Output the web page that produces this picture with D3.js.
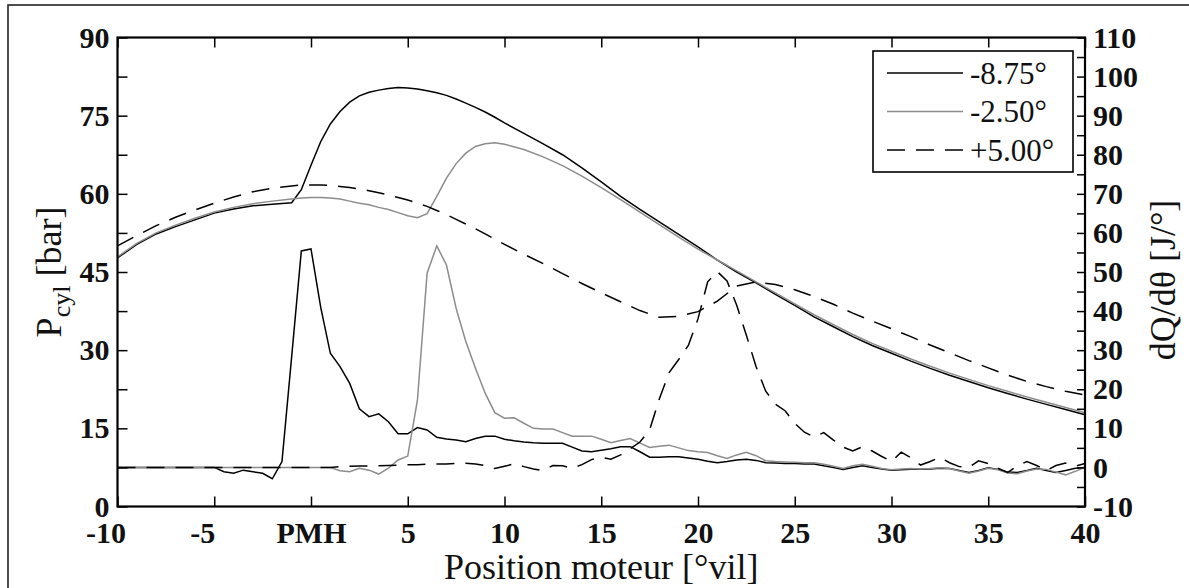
<!DOCTYPE html>
<html>
<head>
<meta charset="utf-8">
<script src="https://cdn.jsdelivr.net/npm/d3@7"></script>
<style>
  body { margin: 0; background: #fff; }
  svg text { font-family: "Liberation Serif", "Times New Roman", serif; fill: #111; }
</style>
</head>
<body>
<div id="chart"></div>
<script>
// crank angle grid for the pressure curves (finer around combustion start)
var pAngle = [-10, -9, -8, -7, -6, -5, -4, -3, -2, -1,
  -0.5, 0, 0.5, 1, 1.5, 2, 2.5, 3, 3.5, 4, 4.5, 5, 5.5, 6, 6.5, 7, 7.5, 8, 8.5, 9, 9.5, 10,
  11, 12, 13, 14, 15, 16, 17, 18, 19, 20, 21, 22, 23, 24, 25, 26, 27, 28, 29, 30,
  31, 32, 33, 34, 35, 36, 37, 38, 39, 40];

// cylinder pressure [bar]
var pA = [47.7, 50.3, 52.3, 53.7, 55.0, 56.3, 57.1, 57.7, 58.0, 58.3,
  60.8, 65.5, 70.0, 73.4, 75.8, 77.6, 78.8, 79.5, 79.9, 80.2, 80.4, 80.3, 80.1, 79.8, 79.4, 78.9, 78.2, 77.4, 76.6, 75.7, 74.7, 73.6,
  71.6, 69.6, 67.5, 65.0, 62.3, 59.5, 57.0, 54.6, 52.2, 49.8, 47.3, 45.0, 42.9, 40.7, 38.6, 36.4, 34.5, 32.6, 30.9, 29.4,
  27.9, 26.5, 25.2, 24.0, 22.8, 21.7, 20.6, 19.6, 18.6, 17.6];
var pB = [47.9, 50.5, 52.5, 54.0, 55.3, 56.5, 57.4, 58.1, 58.6, 59.0,
  59.2, 59.3, 59.3, 59.2, 59.0, 58.6, 58.2, 57.9, 57.4, 57.0, 56.4, 55.8, 55.4, 56.2, 59.5, 63.0, 65.8, 67.8, 69.1, 69.6, 69.8, 69.5,
  68.5, 67.1, 65.4, 63.4, 61.2, 58.9, 56.5, 54.1, 51.7, 49.4, 47.3, 45.2, 43.1, 41.0, 38.9, 36.8, 34.9, 33.0, 31.3, 29.8,
  28.3, 26.9, 25.6, 24.4, 23.2, 22.1, 21.0, 20.0, 19.0, 18.0];
var pC = [50.0, 52.0, 53.9, 55.5, 56.9, 58.2, 59.4, 60.4, 61.1, 61.5,
  61.7, 61.7, 61.7, 61.6, 61.4, 61.2, 60.9, 60.6, 60.2, 59.8, 59.3, 58.8, 58.2, 57.6, 56.8, 56.0, 55.1, 54.2, 53.3, 52.3, 51.3, 50.3,
  48.4, 46.6, 44.7, 42.8, 41.0, 39.3, 37.6, 36.3, 36.5, 37.4, 39.4, 42.3, 43.1, 42.6, 41.6, 40.3, 38.8, 37.1, 35.6, 34.1,
  32.6, 31.0, 29.5, 28.0, 26.6, 25.2, 24.0, 23.0, 22.1, 21.4];

// crank angle grid for the heat release rate, every 0.5 deg
var qAngle = [-10, -9.5, -9, -8.5, -8, -7.5, -7, -6.5, -6, -5.5,
  -5, -4.5, -4, -3.5, -3, -2.5, -2, -1.5, -1, -0.5,
  0, 0.5, 1, 1.5, 2, 2.5, 3, 3.5, 4, 4.5,
  5, 5.5, 6, 6.5, 7, 7.5, 8, 8.5, 9, 9.5,
  10, 10.5, 11, 11.5, 12, 12.5, 13, 13.5, 14, 14.5,
  15, 15.5, 16, 16.5, 17, 17.5, 18, 18.5, 19, 19.5,
  20, 20.5, 21, 21.5, 22, 22.5, 23, 23.5, 24, 24.5,
  25, 25.5, 26, 26.5, 27, 27.5, 28, 28.5, 29, 29.5,
  30, 30.5, 31, 31.5, 32, 32.5, 33, 33.5, 34, 34.5,
  35, 35.5, 36, 36.5, 37, 37.5, 38, 38.5, 39, 39.5,
  40];

// heat release rate dQ/dtheta [J/deg]
var qA = [0, 0, 0, 0, 0, 0, 0, 0, 0, 0,
  0, -1.1, -1.5, -0.7, -1.1, -1.5, -2.9, 1.5, 28.3, 55.4,
  55.9, 41.0, 29.2, 25.8, 21.5, 15.0, 13.0, 13.7, 11.7, 8.6,
  8.6, 10.2, 9.6, 7.7, 7.3, 7.0, 6.6, 7.4, 8.0, 8.0,
  7.2, 6.8, 6.5, 6.3, 6.2, 6.2, 6.2, 5.2, 4.2, 4.0,
  4.4, 4.8, 5.3, 5.3, 4.0, 2.6, 2.6, 2.7, 2.7, 2.4,
  2.1, 1.6, 1.2, 1.5, 1.9, 2.1, 1.8, 1.2, 1.1, 1.0,
  1.0, 0.9, 0.9, 0.4, 0.0, -0.5, 0.0, 0.4, 0.0, -0.4,
  -0.7, -0.6, -0.5, -0.5, -0.4, -0.2, -0.3, -0.8, -1.3, -0.8,
  -0.1, -0.5, -1.2, -1.3, -0.8, -0.2, -0.8, -1.3, -0.8, -0.2,
  0.0];
var qB = [0, 0, 0, 0, 0, 0, 0, 0, 0, 0,
  0, 0, 0, 0, 0, 0, 0, 0, 0, 0,
  0, 0, 0, -0.85, -1.1, -0.2, -0.7, -1.7, -0.2, 1.9,
  2.9, 17.2, 49.7, 56.7, 51.8, 40.7, 32.2, 25.4, 19.0, 14.0,
  12.6, 12.7, 11.3, 10.0, 9.8, 9.8, 8.9, 8.0, 8.0, 8.0,
  7.2, 6.3, 6.9, 7.4, 6.2, 5.1, 5.4, 5.7, 5.0, 4.3,
  4.0, 3.8, 3.0, 2.3, 3.2, 3.9, 3.0, 1.7, 1.5, 1.4,
  1.3, 1.2, 1.2, 0.8, 0.3, -0.3, 0.4, 0.8, 0.3, -0.3,
  -0.6, -0.4, -0.3, -0.4, -0.3, -0.1, -0.3, -0.9, -1.5, -0.9,
  -0.2, -0.6, -1.4, -1.6, -0.9, -0.4, -0.5, -1.2, -1.9, -1.0,
  0.0];
var qC = [0, 0, 0, 0, 0, 0, 0, 0, 0, 0,
  0, 0, 0, 0, 0, 0, 0, 0, 0, 0,
  0, 0, 0, 0.2, 0.3, 0.35, 0.4, 0.45, 0.5, 0.6,
  0.7, 0.7, 0.8, 0.85, 0.9, 1.0, 1.05, 0.9, 0.5, -0.3,
  0.3, 0.9, 0.2, -0.4, -0.8, 0.5, 0.4, -0.2, 0.7, 2.0,
  2.6, 2.1, 3.2, 4.8, 6.5, 9.6, 17.5, 24.2, 27.6, 31.2,
  38.0, 47.5, 50.1, 47.7, 41.5, 33.8, 25.8, 19.5, 16.2, 14.5,
  11.3, 9.0, 7.8, 8.9, 7.0, 5.2, 4.2, 5.3, 4.2, 2.8,
  1.5, 3.9, 2.5, 0.6, 1.5, 2.6, 1.2, 0.2, 0.0, 1.7,
  1.0, -0.2, -1.3, 0.4, 1.5, 0.5, -0.8, 0.5, 1.1, 0.3,
  1.0];

var labels = ["-8.75°", "-2.50°", "+5.00°"];
var colors = ["#000", "#8c8c8c", "#000"];
var dashes = [null, null, "18,11"];

var xTicks = [-10, -5, 0, 5, 10, 15, 20, 25, 30, 35, 40];
var pTicks = [0, 7.5, 15, 22.5, 30, 37.5, 45, 52.5, 60, 67.5, 75, 82.5, 90];
var qTicks = [-10, -5, 0, 5, 10, 15, 20, 25, 30, 35, 40, 45, 50, 55, 60, 65, 70, 75, 80, 85, 90, 95, 100, 105, 110];

var W = 1189, H = 588;
var plotL = 117.5, plotR = 1085, plotT = 37.5, plotB = 506.5;

var x = d3.scaleLinear().domain([-10, 40]).range([plotL, plotR]);
var yP = d3.scaleLinear().domain([0, 90]).range([plotB, plotT]);
var yQ = d3.scaleLinear().domain([-10, 110]).range([plotB, plotT]);

var svg = d3.select("#chart").append("svg")
    .attr("width", W)
    .attr("height", H);

svg.append("rect").attr("width", W).attr("height", H).attr("fill", "#fff");

// outer frame of the figure
svg.append("rect")
    .attr("x", 8).attr("y", 5)
    .attr("width", 1200).attr("height", 600)
    .attr("fill", "none").attr("stroke", "#222").attr("stroke-width", 1.6);

// curves
var pLine = function(vals) {
    return d3.line()
        .x(function(d, i) { return x(pAngle[i]); })
        .y(function(d) { return yP(d); })(vals);
};
var qLine = function(vals) {
    return d3.line()
        .x(function(d, i) { return x(qAngle[i]); })
        .y(function(d) { return yQ(d); })(vals);
};

var curves = svg.append("g").attr("fill", "none").attr("stroke-width", 1.5);
[pA, pB, pC].forEach(function(vals, k) {
    curves.append("path")
        .attr("d", pLine(vals))
        .attr("stroke", colors[k])
        .attr("stroke-dasharray", dashes[k]);
});
[qA, qB, qC].forEach(function(vals, k) {
    curves.append("path")
        .attr("d", qLine(vals))
        .attr("stroke", colors[k])
        .attr("stroke-dasharray", dashes[k]);
});

// axes (ticks pointing inward)
var fmtX = function(d) { return d == 0 ? "PMH" : d; };

var gx = svg.append("g")
    .attr("transform", "translate(0," + plotB + ")")
    .call(d3.axisBottom(x).tickValues(xTicks).tickSize(-10).tickPadding(15).tickFormat(fmtX));
gx.selectAll("text").attr("dx", function(d) { return d < 0 ? -12 : 0; });

svg.append("g")
    .attr("transform", "translate(0," + plotT + ")")
    .call(d3.axisTop(x).tickValues(xTicks).tickSize(-10).tickFormat(""));

svg.append("g")
    .attr("transform", "translate(" + plotL + ",0)")
    .call(d3.axisLeft(yP).tickValues(pTicks).tickSize(-10).tickPadding(8)
        .tickFormat(function(d) { return d % 15 == 0 ? d : ""; }));

svg.append("g")
    .attr("transform", "translate(" + plotR + ",0)")
    .call(d3.axisRight(yQ).tickValues(qTicks).tickSize(-8).tickPadding(8)
        .tickFormat(function(d) { return d % 10 == 0 ? d : ""; }));

svg.selectAll(".domain").remove();
svg.selectAll(".tick line").attr("stroke", "#000").attr("stroke-width", 1.5);
svg.selectAll(".tick text")
    .style("font-size", "30px")
    .style("font-weight", "bold")
    .attr("fill", "#111");

// plot frame
svg.append("rect")
    .attr("x", plotL).attr("y", plotT)
    .attr("width", plotR - plotL).attr("height", plotB - plotT)
    .attr("fill", "none").attr("stroke", "#000").attr("stroke-width", 2.2);

// axis titles
svg.append("text")
    .attr("x", (plotL + plotR) / 2).attr("y", 579)
    .attr("text-anchor", "middle")
    .style("font-size", "36px")
    .text("Position moteur [°vil]");

var tl = svg.append("text")
    .attr("transform", "translate(61," + (plotT + plotB) / 2 + ") rotate(-90)")
    .attr("text-anchor", "middle")
    .style("font-size", "36px");
tl.append("tspan").text("P");
tl.append("tspan").attr("dy", 9).style("font-size", "26px").text("cyl");
tl.append("tspan").attr("dy", -9).text(" [bar]");

svg.append("text")
    .attr("transform", "translate(1175," + ((plotT + plotB) / 2 + 8) + ") rotate(-90)")
    .attr("text-anchor", "middle")
    .style("font-size", "36px")
    .text("dQ/dθ [J/°]");

// legend
var lg = svg.append("g").attr("transform", "translate(873,51)");
lg.append("rect")
    .attr("width", 200).attr("height", 121)
    .attr("fill", "#fff").attr("stroke", "#000").attr("stroke-width", 1.6);
labels.forEach(function(t, k) {
    var yy = 22 + k * 38.5;
    lg.append("line")
        .attr("x1", 14).attr("x2", 90).attr("y1", yy).attr("y2", yy)
        .attr("stroke", colors[k]).attr("stroke-width", 1.5)
        .attr("stroke-dasharray", dashes[k]);
    lg.append("text")
        .attr("x", 97).attr("y", yy).attr("dy", "0.35em")
        .style("font-size", "31px")
        .text(t);
});
</script>
</body>
</html>
